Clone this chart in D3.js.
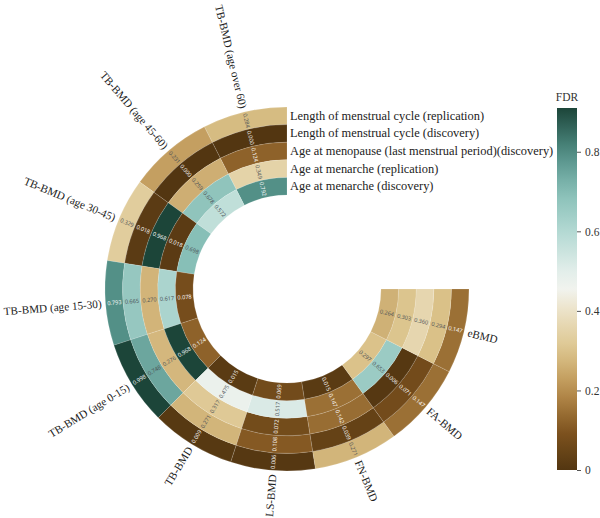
<!DOCTYPE html>
<html lang="en">
<head>
    <meta charset="utf-8">
    <style type="text/css">
        body { margin: 0; background: #fff; }
        .col-label { font-family: "Liberation Serif", serif; font-size: 11.2px; fill: #222; }
        .row-label { font-family: "Liberation Serif", serif; font-size: 12.4px; fill: #222; }
        .val { font-family: "Open Sans", sans-serif; font-size: 5.6px; }
        .cbar text { font-family: "Liberation Serif", serif; font-size: 11.5px; fill: #333; }
    </style>
</head>
<body>
<svg width="600" height="518"></svg>

<script src="https://d3js.org/d3.v7.min.js" type="text/javascript"></script>

<script type="text/javascript">
    var columns = ["TB-BMD (age over 60)", "TB-BMD (age 45-60)", "TB-BMD (age 30-45)", "TB-BMD (age 15-30)",
        "TB-BMD (age 0-15)", "TB-BMD", "LS-BMD", "FN-BMD", "FA-BMD", "eBMD"];

    var rows = ["Length of menstrual cycle (replication)", "Length of menstrual cycle (discovery)",
        "Age at menopause (last menstrual period)(discovery)", "Age at menarche (replication)",
        "Age at menarche (discovery)"];

    // FDR per row, one value per column
    var lengthRep   = [0.284, 0.231, 0.329, 0.793, 0.998, 0.009, 0.006, 0.271, 0.147, 0.147];
    var lengthDisc  = [0.000, 0.000, 0.018, 0.665, 0.748, 0.271, 0.108, 0.039, 0.071, 0.294];
    var menopause   = [0.124, 0.259, 0.968, 0.270, 0.276, 0.317, 0.072, 0.142, 0.006, 0.360];
    var menarcheRep = [0.349, 0.678, 0.018, 0.617, 0.968, 0.475, 0.517, 0.147, 0.653, 0.303];
    var menarcheDisc = [0.792, 0.572, 0.698, 0.078, 0.124, 0.015, 0.069, 0.015, 0.297, 0.264];

    var rowValues = [lengthRep, lengthDisc, menopause, menarcheRep, menarcheDisc];
    var colorTicks = [0, 0.2, 0.4, 0.6, 0.8];

    var svg = d3.select("svg"),
        cx = 287, cy = 289,
        outerR = 182, innerR = 94;

    var color = d3.scaleLinear()
        .domain([0, 0.1, 0.2, 0.3, 0.4, 0.45, 0.5, 0.6, 0.7, 0.8, 0.91])
        .range(["#533611", "#80541f", "#b98f4e", "#dcc48c", "#ece2c6", "#f3f3ee", "#e2eeea",
                "#b3d9d3", "#86beb6", "#4f8c83", "#1c4539"])
        .clamp(true);

    var angle = d3.scaleBand().domain(columns).range([0, -1.5 * Math.PI]);
    var radius = d3.scaleBand().domain(rows).range([outerR, innerR]);

    var cells = [];
    rows.forEach(function (r, i) {
        columns.forEach(function (c, j) {
            cells.push({row: r, col: c, value: rowValues[i][j]});
        });
    });

    var g = svg.append("g").attr("transform", "translate(" + cx + "," + cy + ")");

    var arc = d3.arc()
        .startAngle(function (d) { return angle(d.col); })
        .endAngle(function (d) { return angle(d.col) + angle.bandwidth(); })
        .innerRadius(function (d) { return radius(d.row); })
        .outerRadius(function (d) { return radius(d.row) + radius.bandwidth(); });

    g.selectAll(".cell")
        .data(cells)
        .enter().append("path")
        .attr("class", "cell")
        .attr("d", arc)
        .attr("fill", function (d) { return color(d.value); })
        .attr("stroke", "#fff")
        .attr("stroke-opacity", 0.35)
        .attr("stroke-width", 0.4);

    function midAngle(c) { return angle(c) + angle.bandwidth() / 2; }
    function rot(a) {
        var deg = a * 180 / Math.PI;
        return deg > -180 ? deg + 90 : deg + 270;
    }

    g.selectAll(".val")
        .data(cells)
        .enter().append("text")
        .attr("class", "val")
        .attr("text-anchor", "middle")
        .attr("dominant-baseline", "central")
        .attr("transform", function (d) {
            var a = midAngle(d.col), r = radius(d.row) + radius.bandwidth() / 2;
            return "translate(" + (r * Math.sin(a)) + "," + (-r * Math.cos(a)) + ") rotate(" + rot(a) + ")";
        })
        .attr("fill", function (d) { return d3.lab(color(d.value)).l < 62 ? "#fff" : "#4a4f55"; })
        .text(function (d) { return d3.format(".3f")(d.value); });

    // column labels around the outside
    g.selectAll(".col-label")
        .data(columns)
        .enter().append("text")
        .attr("class", "col-label")
        .attr("dominant-baseline", "central")
        .attr("text-anchor", function (c) { return midAngle(c) > -Math.PI ? "end" : "start"; })
        .attr("transform", function (c) {
            var a = midAngle(c), r = outerR + 4;
            return "translate(" + (r * Math.sin(a)) + "," + (-r * Math.cos(a)) + ") rotate(" + rot(a) + ")";
        })
        .text(function (c) { return c; });

    // row labels to the right of the opening
    g.selectAll(".row-label")
        .data(rows)
        .enter().append("text")
        .attr("class", "row-label")
        .attr("x", 3)
        .attr("y", function (r) { return -(radius(r) + radius.bandwidth() / 2); })
        .attr("dominant-baseline", "central")
        .text(function (r) { return r; });

    // colour bar
    var cbX = 557, cbW = 20;
    var cbY = d3.scaleLinear().domain([0, 0.91]).range([470, 108]);

    var grad = svg.append("defs").append("linearGradient")
        .attr("id", "fdr-grad")
        .attr("x1", 0).attr("y1", 1).attr("x2", 0).attr("y2", 0);
    d3.range(0, 1.0001, 0.05).forEach(function (t) {
        grad.append("stop").attr("offset", t).attr("stop-color", color(t * 0.91));
    });

    var cbar = svg.append("g").attr("class", "cbar");
    cbar.append("rect")
        .attr("x", cbX).attr("y", cbY(0.91))
        .attr("width", cbW).attr("height", cbY(0) - cbY(0.91))
        .attr("fill", "url(#fdr-grad)");

    cbar.append("text")
        .attr("x", cbX + cbW / 2).attr("y", 101)
        .attr("text-anchor", "middle")
        .text("FDR");

    var axis = cbar.append("g")
        .attr("transform", "translate(" + (cbX + cbW) + ",0)")
        .call(d3.axisRight(cbY).tickValues(colorTicks).tickSize(4).tickPadding(4)
            .tickFormat(function (d) { return d === 0 ? "0" : d3.format(".1f")(d); }));
    axis.select(".domain").remove();
    axis.selectAll("line").attr("stroke", "#555");
    axis.selectAll("text").attr("font-family", null).attr("font-size", null);
</script>

</body>
</html>
